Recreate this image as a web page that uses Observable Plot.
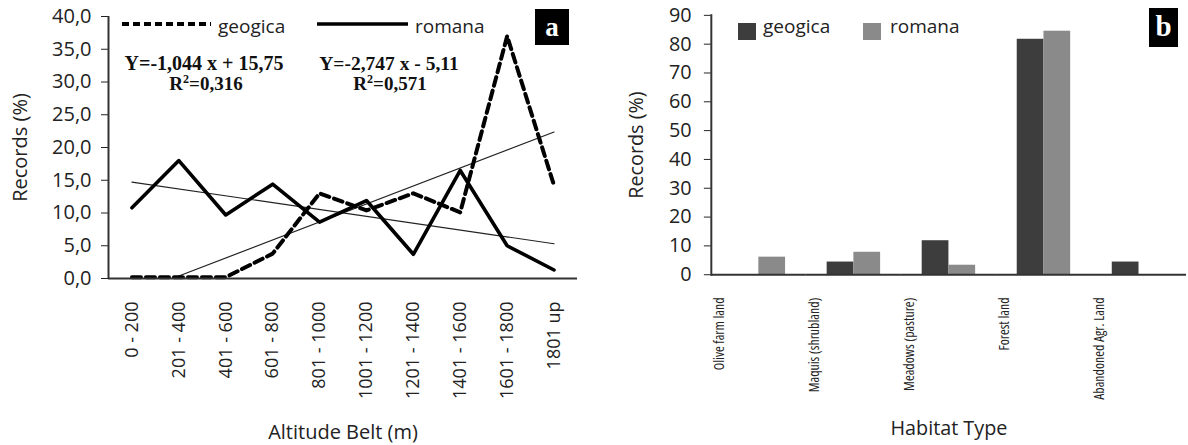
<!DOCTYPE html>
<html><head><meta charset="utf-8">
<script src="https://cdn.jsdelivr.net/npm/d3@7"></script>
<script src="https://cdn.jsdelivr.net/npm/@observablehq/plot@0.6"></script>
<style>
body{margin:0;background:#fff;overflow:hidden;}
#wrap{position:relative;width:1188px;height:445px;overflow:hidden;font-family:"Open Sans",sans-serif;}
#wrap > svg, #wrap > div{position:absolute;top:0;}
#left{left:0;}
#right{left:594px;}
#overlay{left:0;top:0;pointer-events:none;}
g[aria-label="x-axis label"], g[aria-label="fx-axis label"], g[aria-label="y-axis label"]{font-size:20px;}
g[aria-label="fx-axis tick label"]{font-family:"Open Sans",sans-serif;font-stretch:75%;}
</style></head><body><div id="wrap"><div id="left"></div><div id="right"></div></div><script>
// ---- data: panel a ----
const altitudeBelts = ["0 - 200","201 - 400","401 - 600","601 - 800","801 - 1000","1001 - 1200","1201 - 1400","1401 - 1600","1601 - 1800","1801 up"];
const geogicaAlt = [0.2, 0.2, 0.2, 3.8, 13.0, 10.4, 13.0, 10.1, 37.0, 14.2];
const romanaAlt  = [10.8, 18.0, 9.7, 14.4, 8.6, 11.9, 3.7, 16.5, 5.0, 1.3];
const trendNames = ["romana", "geogica"];
const trendSlope = [-1.044, 2.747];
const trendIntercept = [15.75, -5.11];
const yTicksAlt = [0, 5, 10, 15, 20, 25, 30, 35, 40];
// ---- data: panel b ----
const habitats = ["Olive farm land","Maquis (shrubland)","Meadows (pasture)","Forest land","Abandoned Agr. Land"];
const seriesNames = ["geogica", "romana"];
const geogicaHab = [0, 4.4, 11.8, 81.7, 4.4];
const romanaHab  = [6.1, 7.8, 3.3, 84.5, 0];
const yTicksHab = [0, 10, 20, 30, 40, 50, 60, 70, 80, 90];
const seriesColors = ["#3d3d3d", "#8a8a8a"];

const altData = altitudeBelts.flatMap((b, i) => [
  {i: i + 1, belt: b, series: "geogica", v: geogicaAlt[i]},
  {i: i + 1, belt: b, series: "romana", v: romanaAlt[i]}
]);
const n = altitudeBelts.length;
const trendData = trendNames.flatMap((s, k) => {
  const m = trendSlope[k], b = trendIntercept[k];
  const x0 = Math.max(1, -b / m > 0 && m > 0 ? -b / m : 1);
  return [{s, x: x0, y: m * x0 + b}, {s, x: n, y: m * n + b}];
});

const axisColor = "#333";
const left = Plot.plot({
  width: 594, height: 445,
  marginLeft: 108, marginRight: 17, marginTop: 16, marginBottom: 167,
  style: {fontFamily: "'Open Sans', sans-serif", color: "#222", background: "transparent", overflow: "visible"},
  x: {domain: [0.5, n + 0.5]},
  y: {domain: [0, 40]},
  marks: [
    Plot.axisY({ticks: yTicksAlt, tickSize: 7, tickPadding: 10, fontSize: 20,
      tickFormat: d => d.toFixed(1).replace(".", ","), label: "Records (%)", labelArrow: "none", labelAnchor: "center", labelOffset: 96}),
    Plot.axisX({ticks: d3.range(1, n + 1), tickFormat: d => altitudeBelts[d - 1], tickRotate: -90,
      tickSize: 0, tickPadding: 23, fontSize: 18, label: "Altitude Belt (m)", labelArrow: "none", labelAnchor: "center", labelOffset: 160}),
    Plot.line(trendData, {x: "x", y: "y", z: "s", stroke: "#222", strokeWidth: 1.2}),
    Plot.line(altData.filter(d => d.series === "romana"), {x: "i", y: "v", stroke: "#000", strokeWidth: 3.6}),
    Plot.line(altData.filter(d => d.series === "geogica"), {x: "i", y: "v", stroke: "#000", strokeWidth: 4, strokeDasharray: "9,5"}),
    Plot.ruleX([0.5], {stroke: axisColor, strokeWidth: 2}),
    Plot.ruleY([0], {stroke: axisColor, strokeWidth: 2})
  ]
});
document.getElementById("left").append(left);

const habData = habitats.flatMap((h, i) => [
  {habitat: h, series: "geogica", v: geogicaHab[i]},
  {habitat: h, series: "romana", v: romanaHab[i]}
]);
const right = Plot.plot({
  width: 600, height: 445,
  marginLeft: 116, marginRight: 0, marginTop: 15, marginBottom: 168,
  style: {fontFamily: "'Open Sans', sans-serif", color: "#222", background: "transparent", overflow: "visible"},
  fx: {domain: habitats, padding: 0},
  x: {domain: seriesNames, paddingInner: 0, paddingOuter: 0.76, axis: null},
  y: {domain: [0, 90]},
  color: {domain: seriesNames, range: seriesColors},
  marks: [
    Plot.axisY({ticks: yTicksHab, tickSize: 7, tickPadding: 13, fontSize: 20,
      label: "Records (%)", labelArrow: "none", labelAnchor: "center", labelOffset: 83}),
    Plot.axisFx({anchor: "bottom", tickRotate: -90, tickSize: 0, tickPadding: 23, fontSize: 14, dx: -40, label: null}),
    Plot.axisFx({anchor: "bottom", ticks: [], tickSize: 0, label: "Habitat Type", labelArrow: "none", labelAnchor: "center", labelOffset: 162}),
    Plot.barY(habData, {fx: "habitat", x: "series", y: "v", fill: "series"}),
    Plot.ruleY([0], {stroke: axisColor, strokeWidth: 2}),
    Plot.frame({anchor: "left", facetAnchor: "left", stroke: axisColor, strokeWidth: 2})
  ]
});
document.getElementById("right").append(right);

// ---- overlay: legends, equations, panel tags ----
const ov = d3.select("#wrap").append("svg").attr("id", "overlay").attr("width", 1188).attr("height", 445);
// legend a
ov.append("line").attr("x1", 122).attr("x2", 211).attr("y1", 24).attr("y2", 24)
  .attr("stroke", "#000").attr("stroke-width", 4).attr("stroke-dasharray", "7,4");
ov.append("line").attr("x1", 317).attr("x2", 408).attr("y1", 24).attr("y2", 24)
  .attr("stroke", "#000").attr("stroke-width", 3.6);
const legText = (x, t) => ov.append("text").attr("x", x).attr("y", 33).attr("font-family", "'Open Sans', sans-serif")
  .attr("font-size", 19).attr("fill", "#222").text(t);
legText(218, seriesNames[0]);
legText(415, seriesNames[1]);
// equations
const eq = (cx, y, parts, fs) => {
  const t = ov.append("text").attr("x", cx).attr("y", y).attr("text-anchor", "middle")
    .attr("font-family", "'Liberation Serif', 'Times New Roman', serif").attr("font-weight", "bold")
    .attr("font-size", fs).attr("fill", "#111");
  parts.forEach(p => {
    const s = t.append("tspan").text(p.t);
    if (p.sup) s.attr("font-size", 12).attr("dy", -7);
    if (p.after) s.attr("dy", 7);
  });
};
eq(204, 70, [{t: "Y=-1,044 x + 15,75"}], 20);
eq(206, 90, [{t: "R"}, {t: "2", sup: true}, {t: "=0,316", after: true}], 19);
eq(389, 70, [{t: "Y=-2,747 x - 5,11"}], 19.5);
eq(390, 90, [{t: "R"}, {t: "2", sup: true}, {t: "=0,571", after: true}], 19);
// legend b
ov.append("rect").attr("x", 738).attr("y", 23).attr("width", 18).attr("height", 17).attr("fill", seriesColors[0]);
ov.append("rect").attr("x", 863).attr("y", 23).attr("width", 18).attr("height", 17).attr("fill", seriesColors[1]);
legText(763, seriesNames[0]);
legText(890, seriesNames[1]);
// panel tags
const tag = (x, y, w, h, t, by, fs) => {
  ov.append("rect").attr("x", x).attr("y", y).attr("width", w).attr("height", h).attr("fill", "#000");
  ov.append("text").attr("x", x + w / 2).attr("y", by).attr("text-anchor", "middle")
    .attr("font-family", "'Liberation Serif', 'Times New Roman', serif").attr("font-weight", "bold")
    .attr("font-size", fs).attr("fill", "#fff").text(t);
};
tag(535, 9, 34, 36, "a", 36, 27);
tag(1149, 8, 29, 39, "b", 36, 29);
</script></body></html>
